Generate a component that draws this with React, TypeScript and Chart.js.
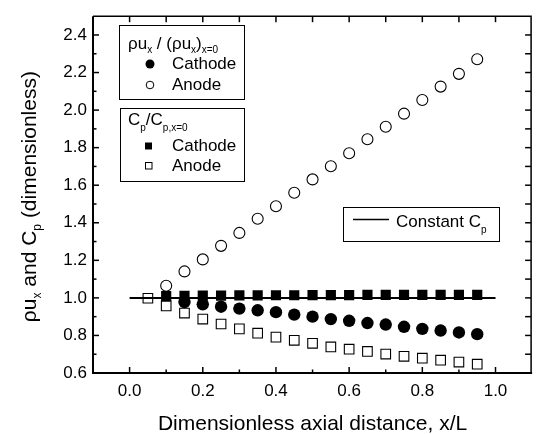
import React, { useEffect, useRef } from 'react';
import { Chart, registerables } from 'chart.js';

Chart.register(...registerables);

// ---- data ----
const xValues = [0.05, 0.1, 0.15, 0.2, 0.25, 0.3, 0.35, 0.4, 0.45, 0.5, 0.55, 0.6, 0.65, 0.7, 0.75, 0.8, 0.85, 0.9, 0.95];
const rhoUAnode = [null, 1.065, 1.141, 1.205, 1.277, 1.346, 1.421, 1.488, 1.56, 1.631, 1.701, 1.77, 1.845, 1.911, 1.981, 2.054, 2.125, 2.193, 2.271];
const rhoUCathode = [null, null, 0.978, 0.966, 0.953, 0.943, 0.934, 0.924, 0.911, 0.9, 0.887, 0.878, 0.866, 0.858, 0.846, 0.835, 0.826, 0.816, 0.807];
const cpCathode = [null, 1.01, 1.011, 1.012, 1.012, 1.013, 1.013, 1.014, 1.014, 1.015, 1.015, 1.015, 1.016, 1.016, 1.016, 1.016, 1.016, 1.016, 1.016];
const cpAnode = [0.998, 0.957, 0.919, 0.887, 0.861, 0.835, 0.812, 0.791, 0.774, 0.758, 0.739, 0.727, 0.715, 0.701, 0.689, 0.679, 0.668, 0.658, 0.647];
const constantX = [0, 1];
const constantY = [1, 1];

const xMajorTicks = [0, 0.2, 0.4, 0.6, 0.8, 1.0];
const xMinorTicks = [0.1, 0.3, 0.5, 0.7, 0.9];
const yMajorTicks = [0.6, 0.8, 1.0, 1.2, 1.4, 1.6, 1.8, 2.0, 2.2, 2.4];
const yMinorTicks = [0.7, 0.9, 1.1, 1.3, 1.5, 1.7, 1.9, 2.1, 2.3];

const xMin = -0.1, xMax = 1.1, yMin = 0.6, yMax = 2.5;

const FONT = "'Liberation Sans', Arial, Helvetica, sans-serif";

function pts(xs: number[], ys: (number | null)[]) {
  const out: { x: number; y: number }[] = [];
  xs.forEach((x, i) => {
    const v = ys[i];
    if (v !== null && v !== undefined) out.push({ x, y: v });
  });
  return out;
}

type Seg = { t: string; sub?: boolean };

function drawRich(ctx: CanvasRenderingContext2D, segs: Seg[], x: number, y: number, size: number, subSize: number, subDrop: number) {
  let cx = x;
  for (const s of segs) {
    ctx.font = `${s.sub ? subSize : size}px ${FONT}`;
    ctx.fillText(s.t, cx, s.sub ? y + subDrop : y);
    cx += ctx.measureText(s.t).width;
  }
  return cx - x;
}

function richWidth(ctx: CanvasRenderingContext2D, segs: Seg[], size: number, subSize: number) {
  let w = 0;
  for (const s of segs) {
    ctx.font = `${s.sub ? subSize : size}px ${FONT}`;
    w += ctx.measureText(s.t).width;
  }
  return w;
}

const decorPlugin = {
  id: 'decor',
  afterDraw(chart: any) {
    const { ctx, chartArea: a, scales } = chart;
    const xs = scales.x, ys = scales.y;
    ctx.save();
    ctx.strokeStyle = '#000';
    ctx.fillStyle = '#000';
    ctx.lineCap = 'butt';

    // frame
    ctx.lineWidth = 2;
    ctx.beginPath();
    ctx.moveTo(a.left, a.top);
    ctx.lineTo(a.left, a.bottom);
    ctx.lineTo(a.right, a.bottom);
    ctx.stroke();
    ctx.lineWidth = 1.5;
    ctx.beginPath();
    ctx.moveTo(a.left, a.top);
    ctx.lineTo(a.right - 1, a.top);
    ctx.lineTo(a.right - 1, a.bottom);
    ctx.stroke();

    // ticks (inward)
    ctx.lineWidth = 1.5;
    const tick = (x1: number, y1: number, x2: number, y2: number) => {
      ctx.beginPath();
      ctx.moveTo(x1, y1);
      ctx.lineTo(x2, y2);
      ctx.stroke();
    };
    xMajorTicks.forEach((v) => {
      const px = xs.getPixelForValue(v);
      tick(px, a.bottom, px, a.bottom - 6);
      tick(px, a.top, px, a.top + 6);
    });
    xMinorTicks.forEach((v) => {
      const px = xs.getPixelForValue(v);
      tick(px, a.bottom, px, a.bottom - 3.5);
      tick(px, a.top, px, a.top + 6);
    });
    yMajorTicks.forEach((v) => {
      const py = ys.getPixelForValue(v);
      tick(a.left, py, a.left + 6, py);
      tick(a.right - 1, py, a.right - 7, py);
    });
    yMinorTicks.forEach((v) => {
      const py = ys.getPixelForValue(v);
      tick(a.left, py, a.left + 3.5, py);
      tick(a.right - 1, py, a.right - 7, py);
    });

    // legend boxes
    ctx.lineWidth = 1;
    ctx.strokeRect(119.5, 25.5, 125, 74);
    ctx.strokeRect(120.5, 108.5, 124, 73);
    ctx.strokeRect(343.5, 207.5, 156, 34);

    ctx.textBaseline = 'alphabetic';
    ctx.textAlign = 'left';
    // box 1 header
    drawRich(ctx, [
      { t: '\u03c1u' }, { t: 'x', sub: true }, { t: ' / (\u03c1u' }, { t: 'x', sub: true }, { t: ')' }, { t: 'x=0', sub: true },
    ], 128, 49, 17, 10, 4);
    // box 1 entries
    ctx.beginPath();
    ctx.arc(150, 64, 4.5, 0, Math.PI * 2);
    ctx.fill();
    ctx.beginPath();
    ctx.lineWidth = 1;
    ctx.arc(150, 85, 3.8, 0, Math.PI * 2);
    ctx.stroke();
    ctx.font = `17px ${FONT}`;
    ctx.textBaseline = 'middle';
    ctx.fillText('Cathode', 172, 64);
    ctx.fillText('Anode', 172, 85);

    // box 2 header
    ctx.textBaseline = 'alphabetic';
    drawRich(ctx, [
      { t: 'C' }, { t: 'p', sub: true }, { t: '/C' }, { t: 'p,x=0', sub: true },
    ], 128, 125, 17, 10, 6);
    ctx.fillRect(145, 142.5, 7, 7);
    ctx.strokeRect(145.5, 162.5, 6.5, 6.5);
    ctx.font = `17px ${FONT}`;
    ctx.textBaseline = 'middle';
    ctx.fillText('Cathode', 172, 146);
    ctx.fillText('Anode', 172, 166);

    // box 3
    ctx.lineWidth = 1.5;
    tick(353, 219.5, 389, 219.5);
    ctx.textBaseline = 'alphabetic';
    drawRich(ctx, [{ t: 'Constant C' }, { t: 'p', sub: true }], 396, 227, 17, 10, 6);

    // x title
    ctx.font = `21px ${FONT}`;
    ctx.textAlign = 'center';
    ctx.fillText('Dimensionless axial distance, x/L', (a.left + a.right) / 2, 430);

    // y title (rotated)
    const ySegs: Seg[] = [
      { t: '\u03c1u' }, { t: 'x', sub: true }, { t: ' and C' }, { t: 'p', sub: true }, { t: ' (dimensionless)' },
    ];
    ctx.textAlign = 'left';
    const w = richWidth(ctx, ySegs, 21, 12);
    ctx.translate(36, (a.top + a.bottom) / 2 + 2);
    ctx.rotate(-Math.PI / 2);
    drawRich(ctx, ySegs, -w / 2, 0, 21, 12, 5);

    ctx.restore();
  },
};

export default function App() {
  const ref = useRef<HTMLCanvasElement>(null);

  useEffect(() => {
    const canvas = ref.current!;
    const openCommon = {
      backgroundColor: 'rgba(255,255,255,0)',
      borderColor: '#000',
      borderWidth: 1.1,
      showLine: false,
    };
    const chart = new Chart(canvas, {
      type: 'scatter',
      data: {
        datasets: [
          {
            type: 'line',
            label: 'Constant Cp',
            data: pts(constantX, constantY),
            borderColor: '#000',
            borderWidth: 2,
            pointRadius: 0,
            fill: false,
            order: 0,
          } as any,
          {
            label: 'Cathode rho u',
            data: pts(xValues, rhoUCathode),
            pointStyle: 'circle',
            pointRadius: 6.2,
            backgroundColor: '#000',
            borderColor: '#000',
            borderWidth: 0,
            order: 2,
          },
          {
            label: 'Anode rho u',
            data: pts(xValues, rhoUAnode),
            pointStyle: 'circle',
            pointRadius: 5.5,
            ...openCommon,
            order: 3,
          },
          {
            label: 'Cathode Cp',
            data: pts(xValues, cpCathode),
            pointStyle: 'rect',
            pointRadius: 7.2,
            backgroundColor: '#000',
            borderColor: '#000',
            borderWidth: 0,
            order: 1,
          },
          {
            label: 'Anode Cp',
            data: pts(xValues, cpAnode),
            pointStyle: 'rect',
            pointRadius: 6.8,
            ...openCommon,
            order: 4,
          },
        ],
      },
      options: {
        animation: false,
        responsive: false,
        events: [],
        layout: { padding: { top: 8, left: 0, right: 0, bottom: 0 } },
        plugins: { legend: { display: false }, tooltip: { enabled: false } },
        scales: {
          x: {
            type: 'linear',
            min: xMin,
            max: xMax,
            grid: { display: false, drawTicks: false },
            border: { display: false },
            afterBuildTicks: (s: any) => { s.ticks = xMajorTicks.map((v) => ({ value: v })); },
            afterFit: (s: any) => { s.height = 61; },
            ticks: {
              color: '#000',
              font: { family: FONT, size: 17 },
              padding: 8,
              maxRotation: 0,
              autoSkip: false,
              callback: (v: any) => Number(v).toFixed(1),
            },
          },
          y: {
            type: 'linear',
            min: yMin,
            max: yMax,
            grid: { display: false, drawTicks: false },
            border: { display: false },
            afterBuildTicks: (s: any) => { s.ticks = yMajorTicks.map((v) => ({ value: v })); },
            afterFit: (s: any) => { s.width = 93; },
            ticks: {
              color: '#000',
              font: { family: FONT, size: 17 },
              padding: 6,
              autoSkip: false,
              callback: (v: any) => Number(v).toFixed(1),
            },
          },
        },
      },
      plugins: [decorPlugin],
    } as any);
    return () => chart.destroy();
  }, []);

  return (
    <div style={{ position: 'absolute', left: 0, top: 0, width: 540, height: 434, background: '#fff' }}>
      <canvas ref={ref} width={540} height={434} style={{ display: 'block' }} />
    </div>
  );
}
